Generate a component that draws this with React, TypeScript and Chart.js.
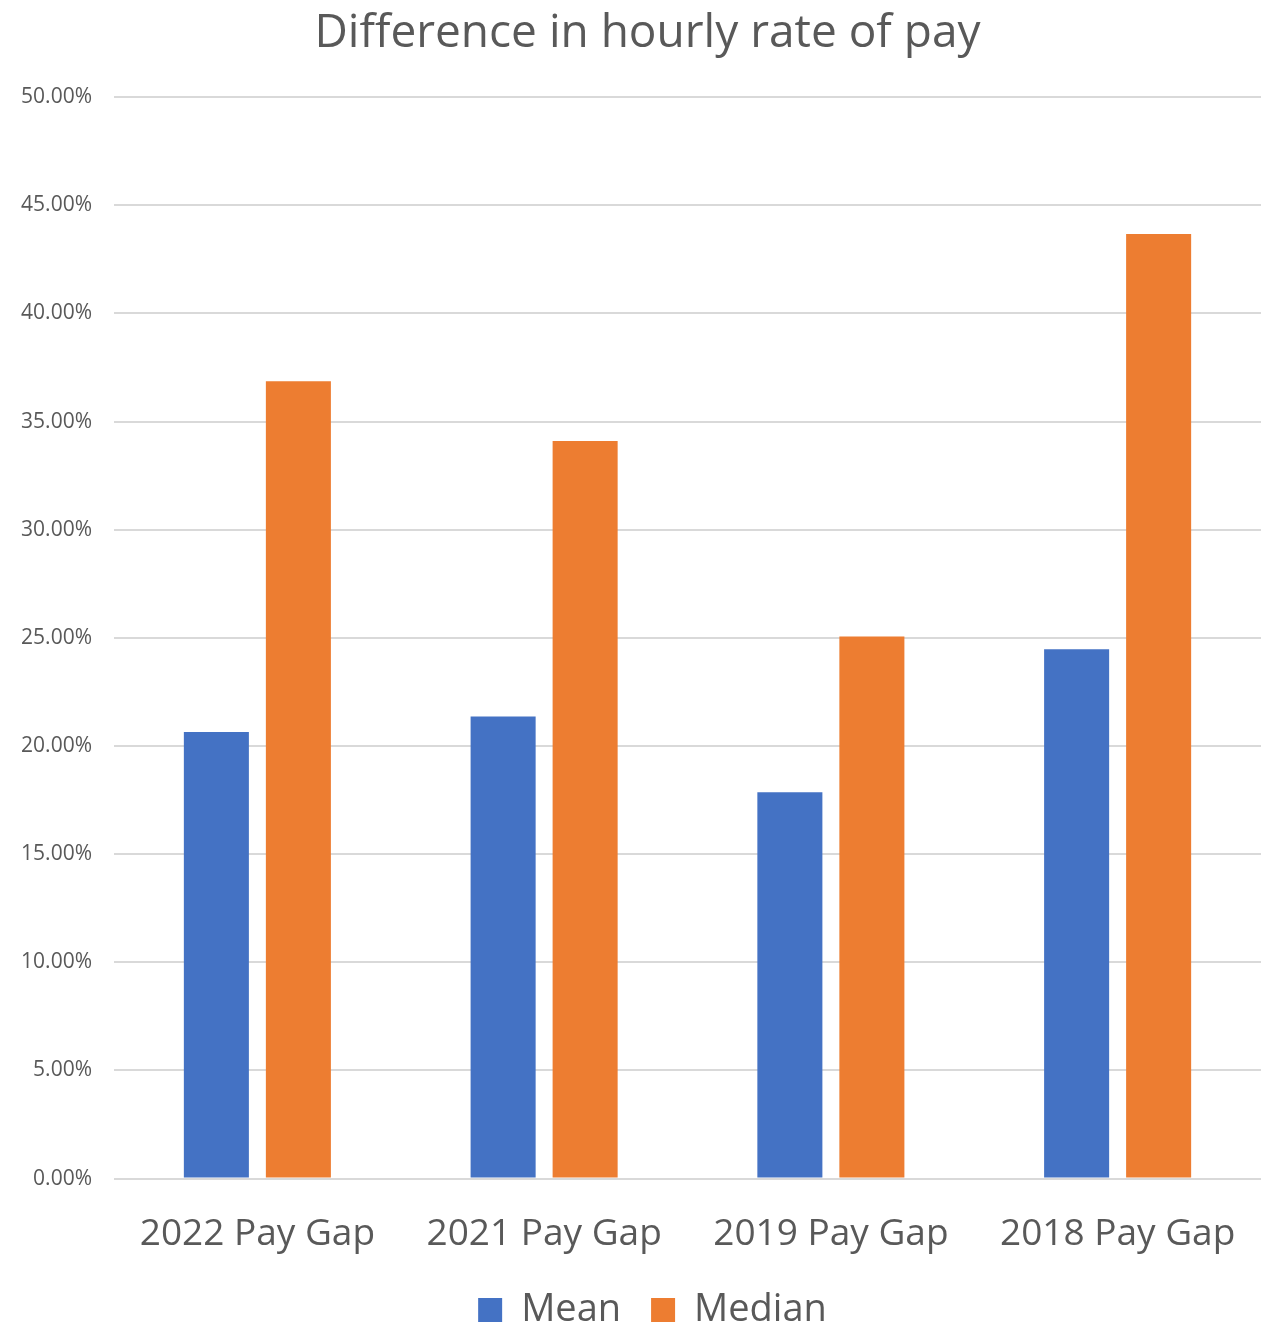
import React, { useEffect, useRef } from "react";
import { Chart, registerables } from "chart.js";

Chart.register(...registerables);

const categories = ["2022 Pay Gap", "2021 Pay Gap", "2019 Pay Gap", "2018 Pay Gap"];
const meanValues = [20.65, 21.37, 17.86, 24.47];
const medianValues = [36.87, 34.1, 25.07, 43.67];
const yMin = 0;
const yMax = 50;
const yStep = 5;

const FONT = "'Open Sans', 'Noto Sans', sans-serif";
const GREY = "#595959";

const shiftBoxes = {
  id: "shiftBoxes",
  afterLayout(chart: any) {
    if (chart.titleBlock) chart.titleBlock.left = 34;
    const lg = chart.legend;
    if (lg) {
      lg.left = 44;
      const h = lg.height;
      lg.top = 1261;
      lg.bottom = lg.top + h;
    }
  },
};

export default function App() {
  const ref = useRef<HTMLCanvasElement | null>(null);

  useEffect(() => {
    document.body.style.margin = "0";
    const canvas = ref.current;
    if (!canvas) return;
    const chart = new Chart(canvas, {
      type: "bar",
      data: {
        labels: categories,
        datasets: [
          {
            label: "Mean",
            data: meanValues,
            backgroundColor: "#4472c4",
            barPercentage: 0.793,
            categoryPercentage: 0.572,
          },
          {
            label: "Median",
            data: medianValues,
            backgroundColor: "#ed7d31",
            barPercentage: 0.793,
            categoryPercentage: 0.572,
          },
        ],
      },
      plugins: [shiftBoxes],
      options: {
        responsive: false,
        animation: false,
        layout: { padding: { left: 0, right: 0, top: 0, bottom: -42 } },
        plugins: {
          title: {
            display: true,
            text: "Difference in hourly rate of pay",
            color: GREY,
            font: { family: FONT, size: 46, weight: "normal" },
            padding: { top: 6, bottom: 36 },
          },
          legend: {
            position: "bottom",
            labels: {
              color: GREY,
              font: { family: FONT, size: 38 },
              boxWidth: 24,
              boxHeight: 24,
              padding: 30,
            },
          },
          tooltip: { enabled: false },
        },
        scales: {
          x: {
            grid: { display: false, drawTicks: false },
            border: { display: false },
            ticks: {
              color: GREY,
              font: { family: FONT, size: 37 },
              padding: 34,
              maxRotation: 0,
            },
            afterFit: (scale: any) => {
              scale.paddingLeft = 0;
              scale.paddingRight = 0;
            },
          },
          y: {
            min: yMin,
            max: yMax,
            grid: { color: "#d9d9d9", lineWidth: 2, drawTicks: false },
            border: { display: false },
            ticks: {
              stepSize: yStep,
              color: GREY,
              font: { family: FONT, size: 21 },
              padding: 22,
              callback: (v: any) => Number(v).toFixed(2) + "%",
            },
            afterFit: (scale: any) => {
              scale.width = 114;
            },
          },
        },
      },
    });
    return () => chart.destroy();
  }, []);

  return (
    <div style={{ position: "absolute", left: 0, top: 0, width: 1261, height: 1327, background: "#fff" }}>
      <canvas ref={ref} width={1261} height={1327} />
    </div>
  );
}
